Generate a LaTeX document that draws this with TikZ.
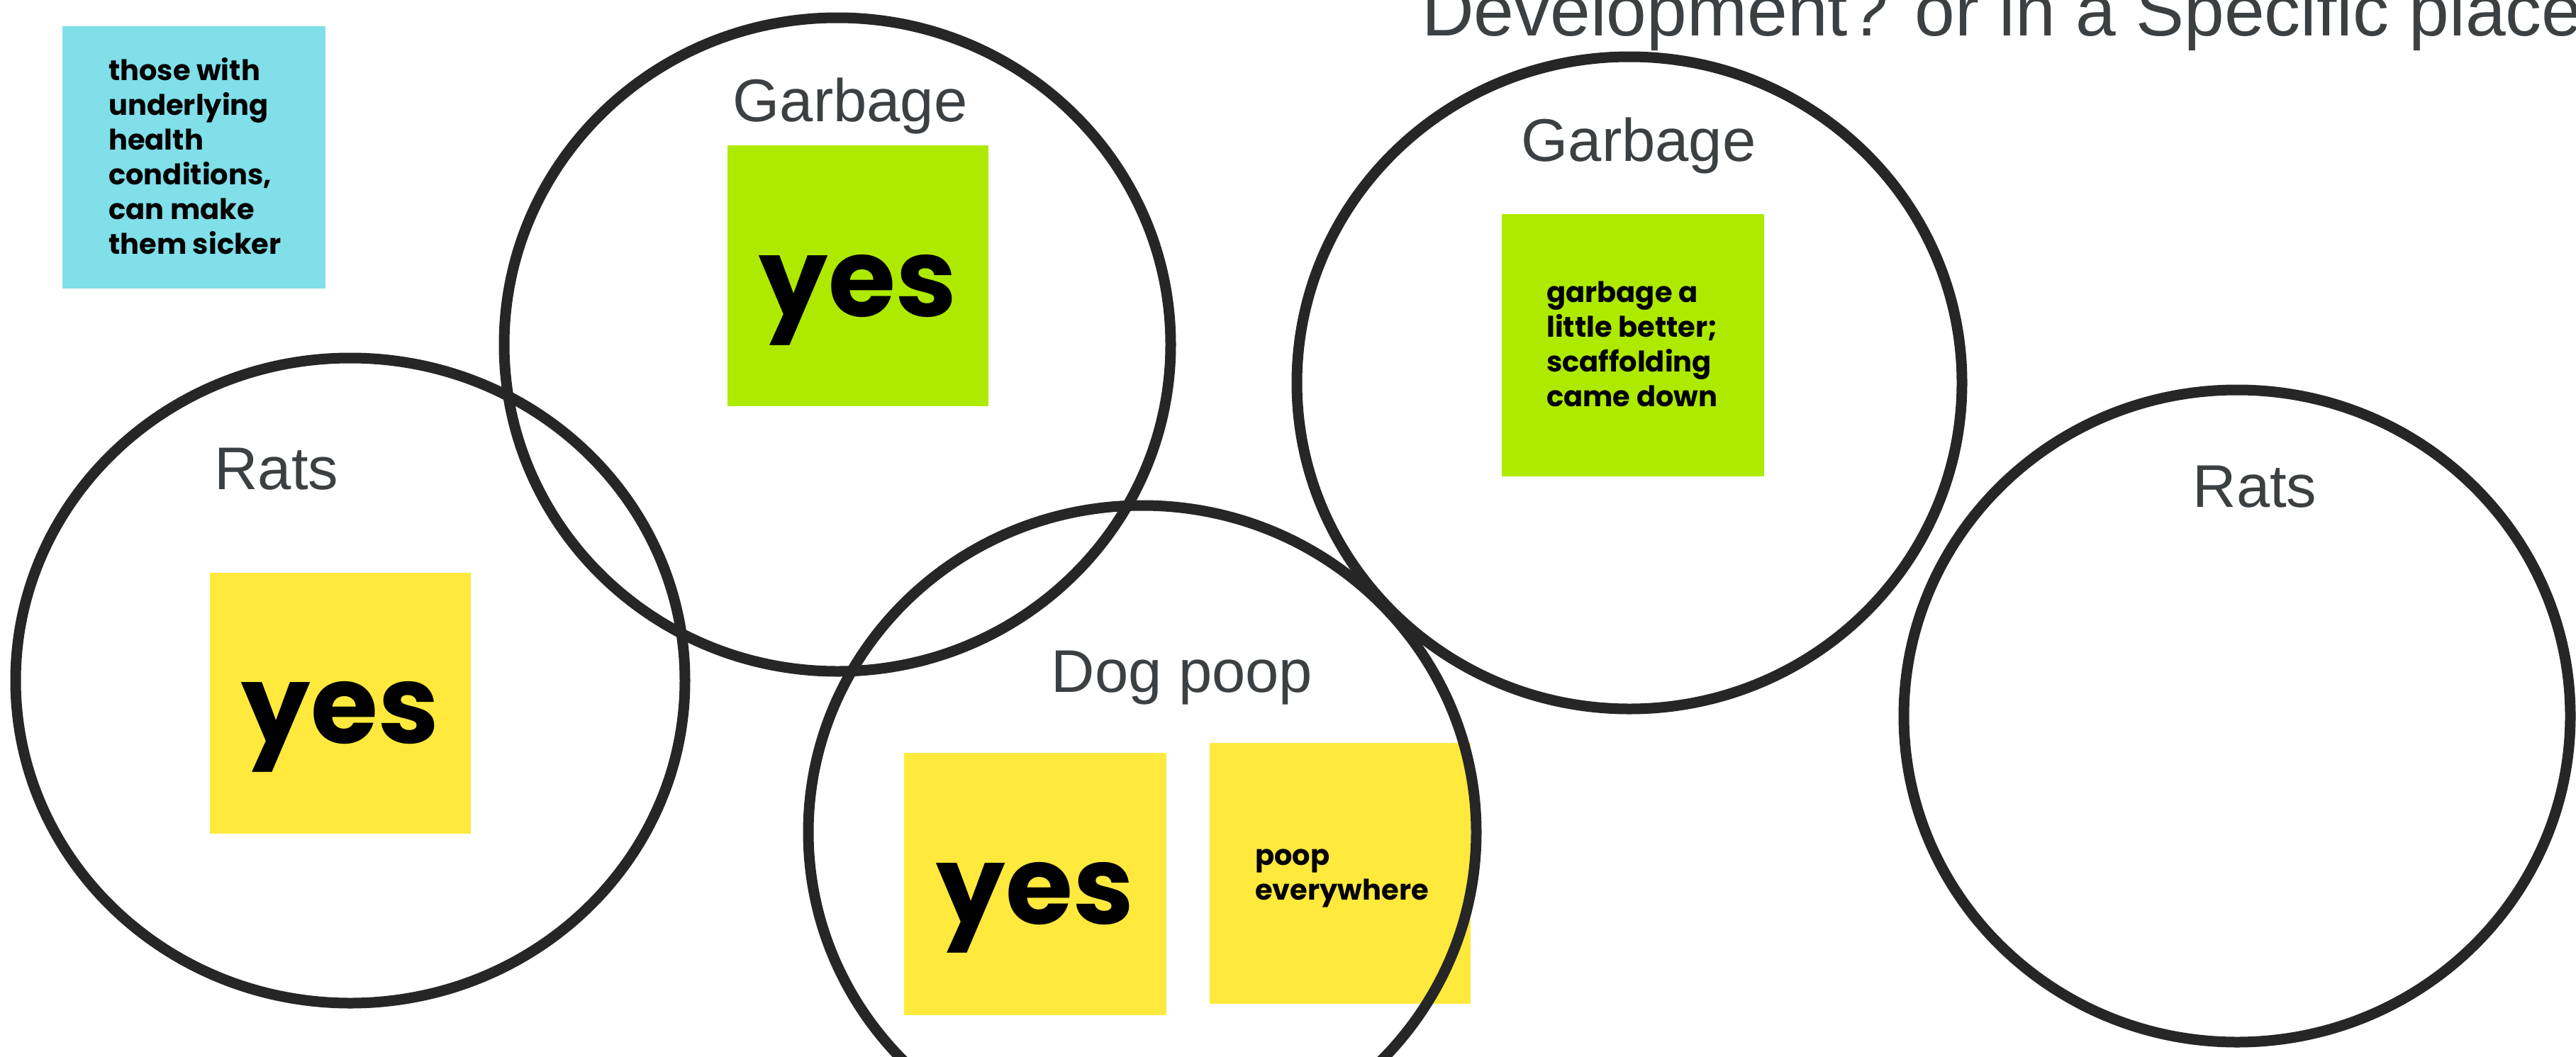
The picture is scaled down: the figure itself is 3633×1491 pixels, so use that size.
\documentclass[tikz,border=0pt]{standalone}
\usepackage{fontspec}
\setmainfont{Liberation Sans}
\newfontfamily\stickyfont{Poppins}
\usetikzlibrary{shapes.geometric}
\definecolor{ink}{HTML}{262626}
\definecolor{labelgray}{HTML}{3C4043}
\definecolor{stickyyellow}{HTML}{FFE93D}
\definecolor{stickygreen}{HTML}{AEEA00}
\definecolor{stickycyan}{HTML}{80DFE9}
\begin{document}
\begin{tikzpicture}[x=1pt,y=-1pt,
  ring/.style={draw=ink, line width=15pt, ellipse, inner sep=0pt, minimum width=940pt, minimum height=922pt},
  stickybox/.style={inner sep=0pt, minimum width=368pt, minimum height=368pt, anchor=north west},
  catlabel/.style={text=labelgray, font=\fontsize{85}{100}\selectfont, anchor=base, inner sep=0pt},
  yesmark/.style={font=\stickyfont\bfseries\fontsize{154}{170}\selectfont, anchor=base, inner sep=0pt},
  stickynote/.style={font=\stickyfont\bfseries\fontsize{40}{49}\selectfont, anchor=base west, inner sep=0pt}]
\useasboundingbox (0,0) rectangle (3633,1491);
\fill[white] (0,0) rectangle (3633,1491);

% title (cut off at top, as in the reference)
\node[text=labelgray, font=\fontsize{102}{120}\selectfont, anchor=base west, inner sep=0pt] (title) at (2005,50) {Development? or in a Specific place};

% sticky notes
\node[stickybox, fill=stickycyan, minimum width=371pt, minimum height=370pt] (cyan) at (88,37) {};
\node[stickybox, fill=stickyyellow] (ratsyes) at (296,808) {};
\node[stickybox, fill=stickygreen] (garbyes) at (1026,205) {};
\node[stickybox, fill=stickyyellow, minimum width=370pt, minimum height=370pt] (dogyes) at (1275,1062) {};
\node[stickybox, fill=stickyyellow] (poop) at (1706,1048) {};
\node[stickybox, fill=stickygreen, minimum width=370pt, minimum height=370pt] (garbnote) at (2118,302) {};

% sticky texts
\node[stickynote] (cyantext) at (153,113) {\begin{tabular}[t]{@{}l@{}}those with\\underlying\\health\\conditions,\\can make\\them sicker\end{tabular}};
\node[stickynote] (garbtext) at (2181,426) {\begin{tabular}[t]{@{}l@{}}garbage a\\little better;\\scaffolding\\came down\end{tabular}};
\node[stickynote] (pooptext) at (1770,1220) {\begin{tabular}[t]{@{}l@{}}poop\\everywhere\end{tabular}};

\node[yesmark] (yes1) at (480,1048) {yes};
\node[yesmark] (yes2) at (1210,446) {yes};
\node[yesmark] (yes3) at (1460,1303) {yes};

% category labels
\node[catlabel] (lgarb) at (1199,171) {Garbage};
\node[catlabel] (lrats) at (390,690) {Rats};
\node[catlabel] (ldog) at (1667,976) {Dog poop};
\node[catlabel] (rgarb) at (2311,227) {Garbage};
\node[catlabel] (rrats) at (3180,715) {Rats};

% circles
\node[ring] (cgarbL) at (1181,486) {};
\node[ring, minimum width=944pt, minimum height=910pt] (cratsL) at (494,960) {};
\node[ring, minimum width=942pt] (cdog) at (1611,1174) {};
\node[ring, minimum width=938pt, minimum height=920pt] (cgarbR) at (2298,540) {};
\node[ring, minimum height=920pt] (cratsR) at (3155,1010) {};
\end{tikzpicture}
\end{document}
